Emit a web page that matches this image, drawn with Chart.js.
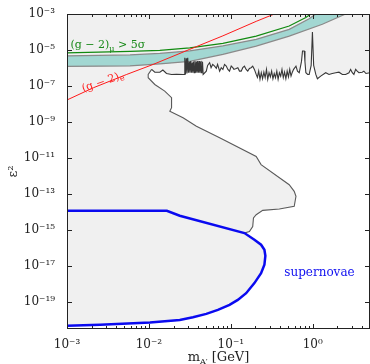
<!DOCTYPE html>
<html>
<head>
<meta charset="utf-8">
<script src="https://cdn.jsdelivr.net/npm/chart.js@4.4.1/dist/chart.umd.min.js"></script>
<style>
  html, body { margin: 0; padding: 0; background: #fff; }
  #wrap { width: 370px; height: 364px; }
</style>
</head>
<body>
<div id="wrap"><canvas id="chart"></canvas></div>
<script>
// Axis ticks
const xTicks = [1e-3, 1e-2, 1e-1, 1];
const yTicks = [1e-3, 1e-5, 1e-7, 1e-9, 1e-11, 1e-13, 1e-15, 1e-17, 1e-19];

// Existing limit: lower branch (from supernova junction up) then the noisy upper limit
const limitX = [
  0.1466, 0.1686, 0.185, 0.189, 0.204, 0.245, 0.391, 0.594, 0.624, 0.594,
  0.516, 0.234, 0.204, 0.073, 0.038, 0.0261, 0.018, 0.0189, 0.0189, 0.0156,
  0.0118, 0.0098, 0.0098, 0.0108,
  0.0118, 0.0136, 0.0148, 0.0164, 0.0189, 0.0217, 0.0261, 0.02699, 0.0274, 0.02792,
  0.02855, 0.02912, 0.02978, 0.03037, 0.03105, 0.03166, 0.03238, 0.0330, 0.03367, 0.03434,
  0.03502, 0.03571, 0.03641, 0.03713, 0.03787, 0.03862, 0.03938, 0.04016, 0.04095, 0.04176,
  0.04259, 0.04343, 0.04429, 0.04517, 0.04594, 0.0502, 0.0521, 0.0551, 0.0574, 0.0600,
  0.0634, 0.0665, 0.0689, 0.0730, 0.0764, 0.0800, 0.0838, 0.0879, 0.0920, 0.0964,
  0.1011, 0.1057, 0.1090, 0.1164, 0.1217, 0.1276, 0.1338, 0.1400, 0.1466, 0.1538,
  0.1609, 0.1686, 0.1770, 0.185, 0.194, 0.204, 0.2111, 0.2189, 0.2270, 0.2354,
  0.2441, 0.2531, 0.2625, 0.2723, 0.2823, 0.2928, 0.3037, 0.3149, 0.3266, 0.3387,
  0.3512, 0.3642, 0.3777, 0.3917, 0.4062, 0.4212, 0.4368, 0.4530, 0.4697, 0.4871,
  0.5051, 0.5238, 0.5432, 0.5633, 0.5842, 0.624, 0.651, 0.684, 0.713, 0.729,
  0.750, 0.787, 0.803, 0.824, 0.867, 0.904, 0.957, 0.991, 1.026, 1.09,
  1.14, 1.25, 1.44, 1.58, 1.73, 1.91, 2.09, 2.30, 2.52, 2.77,
  2.90, 3.04, 3.18, 3.34, 3.49, 3.66, 4.02, 4.21, 4.46, 5
];
const limitY = [
  6.5e-16, 8.0e-16, 1.52e-15, 4.5e-15, 6.8e-15, 1.19e-14, 1.42e-14, 1.99e-14, 7.2e-14, 1.36e-13,
  3.2e-13, 4.2e-12, 1.2e-11, 1.29e-10, 5.7e-10, 1.68e-9, 3.9e-9, 6.1e-9, 2.2e-8, 5.1e-8,
  1.2e-7, 2.85e-7, 4.35e-7, 8.3e-7,
  5.8e-7, 5.8e-7, 7.6e-7, 4.9e-7, 4.35e-7, 4.4e-7, 4.3e-7, 4.35e-7, 3.7e-6, 4.35e-7,
  3.4e-6, 4.9e-7, 3.7e-6, 5.4e-7, 2.2e-6, 5.4e-7, 2.4e-6, 5.4e-7, 2.0e-6, 5.4e-7,
  2.3e-6, 5.4e-7, 2.4e-6, 5.4e-7, 2.3e-6, 5.4e-7, 2.4e-6, 5.4e-7, 2.4e-6, 5.4e-7,
  2.3e-6, 5.4e-7, 2.2e-6, 2.0e-6, 4.35e-7, 6.65e-7, 1.38e-6, 1.95e-6, 1.03e-6, 1.57e-6,
  1.26e-6, 9.4e-7, 1.57e-6, 6.65e-7, 1.03e-6, 8.3e-7, 1.57e-6, 1.26e-6, 8.3e-7, 6.65e-7,
  1.26e-6, 1.03e-6, 8.3e-7, 9.4e-7, 1.03e-6, 6.65e-7, 6.65e-7, 1.03e-6, 1.26e-6, 8.3e-7,
  6.65e-7, 9.4e-7, 1.03e-6, 1.26e-6, 8.3e-7, 4.35e-7, 2.96e-7, 6.65e-7, 2.3e-7, 5.4e-7,
  2.5e-7, 5.8e-7, 2.85e-7, 8.3e-7, 2.3e-7, 5.4e-7, 3.16e-7, 6.65e-7, 2.5e-7, 4.9e-7,
  2.85e-7, 6.65e-7, 2.3e-7, 5.4e-7, 3.5e-7, 8.3e-7, 2.85e-7, 5.8e-7, 2.5e-7, 6.65e-7,
  3.16e-7, 8.3e-7, 3.5e-7, 5.8e-7, 8.3e-7, 1.26e-6, 6.65e-7, 5.4e-7, 1.38e-6, 2.3e-6,
  8.7e-6, 8.7e-6, 2.3e-6, 5.4e-7, 4.35e-7, 4.35e-7, 1.38e-6, 9.9e-5, 1.38e-6, 4.35e-7,
  2.5e-7, 3.5e-7, 5.4e-7, 4.35e-7, 4.9e-7, 5.4e-7, 5.8e-7, 4.35e-7, 4.35e-7, 5.4e-7,
  8.3e-7, 5.4e-7, 4.35e-7, 8.3e-7, 6.65e-7, 5.4e-7, 5.8e-7, 6.65e-7, 4.9e-7, 5.4e-7
];
const LIMIT_BRANCH_END = 23; // last index of the smooth lower branch

// Supernova bound (closed around the excluded island)
const snX = [1e-3, 0.01656, 0.0238, 0.1466, 0.194, 0.234, 0.257, 0.264, 0.257, 0.234,
  0.194, 0.1538, 0.1216, 0.0964, 0.0695, 0.0502, 0.0345, 0.0238, 0.0103, 0.00254, 1e-3];
const snY = [1.14e-14, 1.14e-14, 6.0e-15, 6.5e-16, 2.76e-16, 1.46e-16, 7.7e-17, 3.5e-17, 1.12e-17, 3.85e-18,
  1.07e-18, 2.95e-19, 1.25e-19, 6.6e-20, 3.47e-20, 2.07e-20, 1.36e-20, 9.6e-21, 6.8e-21, 5.25e-21, 4.6e-21];

// (g-2)_mu > 5 sigma
const gmuX = [1e-3, 5.88e-3, 0.0136, 0.0315, 0.080, 0.204, 0.516, 0.824, 0.948, 1.2];
const gmuY = [6.9e-6, 8.3e-6, 9.5e-6, 1.31e-5, 2.33e-5, 5.9e-5, 2.14e-4, 6.3e-4, 1e-3, 1.6e-3];

// (g-2)_mu favoured band
const bandHiX = [1e-3, 5.88e-3, 0.0136, 0.0315, 0.080, 0.204, 0.516, 0.904, 1.09, 3];
const bandHiY = [4.68e-6, 5.3e-6, 6.4e-6, 8.9e-6, 1.69e-5, 3.9e-5, 1.40e-4, 5.5e-4, 1e-3, 2.5e-2];
const bandLoX = [1e-3, 5.88e-3, 0.0136, 0.0315, 0.080, 0.204, 0.516, 1.31, 2.52, 3];
const bandLoY = [1.22e-6, 1.30e-6, 1.67e-6, 2.31e-6, 5.7e-6, 1.64e-5, 5.9e-5, 2.67e-4, 1e-3, 1.4e-3];

// (g-2)_e
const geX = [1e-3, 2.10e-3, 5.36e-3, 0.01127, 0.0315, 0.080, 0.204, 0.340, 0.45];
const geY = [1.65e-8, 7.9e-8, 4.35e-7, 1.57e-6, 1.08e-5, 6.1e-5, 3.9e-4, 1e-3, 2.2e-3];

const SERIF = '"DejaVu Serif", serif';
const SUP = { '-': '⁻', '0': '⁰', '1': '¹', '2': '²', '3': '³', '4': '⁴', '5': '⁵', '6': '⁶', '7': '⁷', '8': '⁸', '9': '⁹' };
const pow10 = v => '10' + String(Math.round(Math.log10(v))).replace(/./g, c => SUP[c]);
const zip = (xs, ys) => xs.map((x, i) => ({ x: x, y: ys[i] }));

// draw a run of [text, size, dy] pieces from a left baseline point
function drawParts(ctx, parts, x, y) {
  for (const [t, size, dy] of parts) {
    ctx.font = size + 'px ' + SERIF;
    ctx.fillText(t, x, y + dy);
    x += ctx.measureText(t).width;
  }
}
function partsWidth(ctx, parts) {
  let w = 0;
  for (const [t, size] of parts) {
    ctx.font = size + 'px ' + SERIF;
    w += ctx.measureText(t).width;
  }
  return w;
}

// Light grey excluded region, built from the limit and supernova curves
const regionPlugin = {
  id: 'regions',
  beforeDatasetsDraw(chart) {
    const { ctx, chartArea: a } = chart;
    const lim = chart.getDatasetMeta(3).data;
    const sn = chart.getDatasetMeta(2).data;
    const join = snX.findIndex(v => v >= limitX[0]);
    ctx.save();
    ctx.beginPath();
    ctx.rect(a.left, a.top, a.width, a.height);
    ctx.clip();
    ctx.fillStyle = '#f0f0f0';
    ctx.beginPath();
    ctx.moveTo(a.left, a.top);
    ctx.lineTo(a.right, a.top);
    ctx.lineTo(a.right, lim[lim.length - 1].y);
    for (let i = lim.length - 1; i >= 0; i--) ctx.lineTo(lim[i].x, lim[i].y);
    for (let i = join; i < sn.length; i++) ctx.lineTo(sn[i].x, sn[i].y);
    ctx.lineTo(a.left, sn[sn.length - 1].y);
    ctx.closePath();
    ctx.fill();
    ctx.restore();
  }
};

// Frame with inward ticks on all four sides, labels and axis title
const framePlugin = {
  id: 'frame',
  afterDatasetsDraw(chart) {
    const { ctx, chartArea: a, scales: { x, y } } = chart;
    ctx.save();
    ctx.strokeStyle = '#222';
    ctx.lineWidth = 1;
    ctx.strokeRect(a.left + 0.5, a.top + 0.5, a.width - 1, a.height - 1);
    ctx.beginPath();
    for (const dec of xTicks) {
      for (let m = 1; m < 10; m++) {
        const v = m * dec;
        if (v > x.max) break;
        const px = Math.round(x.getPixelForValue(v)) + 0.5;
        const len = m === 1 ? 5 : 3;
        ctx.moveTo(px, a.bottom); ctx.lineTo(px, a.bottom - len);
        ctx.moveTo(px, a.top); ctx.lineTo(px, a.top + len);
      }
    }
    for (const v of yTicks) {
      const py = Math.round(y.getPixelForValue(v)) + 0.5;
      ctx.moveTo(a.left, py); ctx.lineTo(a.left + 5, py);
      ctx.moveTo(a.right, py); ctx.lineTo(a.right - 5, py);
    }
    ctx.stroke();

    // annotations
    ctx.textBaseline = 'alphabetic';
    ctx.fillStyle = '#1a8a1a';
    drawParts(ctx, [['(g − 2)', 11, 0], ['μ', 8, 3], [' > 5σ', 11, 0]],
      x.getPixelForValue(1.1e-3), y.getPixelForValue(1.22e-5));

    ctx.fillStyle = '#ff2020';
    ctx.save();
    ctx.translate(x.getPixelForValue(1.58e-3), y.getPixelForValue(4.6e-8));
    ctx.rotate(-19 * Math.PI / 180);
    drawParts(ctx, [['(g − 2)', 11, 0], ['e', 8, 2]], 0, 0);
    ctx.restore();

    ctx.fillStyle = '#1010f0';
    drawParts(ctx, [['supernovae', 12, 0]], x.getPixelForValue(0.449), y.getPixelForValue(2.5e-18));

    // x axis title
    ctx.fillStyle = '#222';
    const title = [['m', 13, 0], ['A′', 8, 3], [' [GeV]', 13, 0]];
    const w = partsWidth(ctx, title);
    drawParts(ctx, title, (a.left + a.right) / 2 - w / 2, chart.height - 3);
    ctx.restore();
  }
};

new Chart(document.getElementById('chart'), {
  type: 'line',
  data: {
    datasets: [
      { label: '(g-2)e', data: zip(geX, geY), borderColor: '#ff1a1a', borderWidth: 1, order: 0 },
      { label: '(g-2)mu 5 sigma', data: zip(gmuX, gmuY), borderColor: '#108a10', borderWidth: 1.2, order: 1 },
      { label: 'supernovae', data: zip(snX, snY), borderColor: '#0a0af0', borderWidth: 2.5, order: 2 },
      { label: 'limit', data: zip(limitX, limitY), borderColor: '#383838', borderWidth: 1.1, order: 3,
        segment: { borderColor: c => c.p0DataIndex < LIMIT_BRANCH_END ? '#5a5a5a' : undefined } },
      { label: 'band high', data: zip(bandHiX, bandHiY), borderColor: '#8a8a8a', borderWidth: 1.2, order: 4 },
      { label: 'band low', data: zip(bandLoX, bandLoY), borderColor: '#8a8a8a', borderWidth: 1.2,
        backgroundColor: '#a2d7d2', fill: '-1', order: 5 }
    ]
  },
  options: {
    responsive: true,
    maintainAspectRatio: false,
    animation: false,
    layout: { padding: { top: 14, right: 0, left: 0, bottom: 0 } },
    elements: { point: { radius: 0 }, line: { tension: 0 } },
    plugins: { legend: { display: false }, tooltip: { enabled: false } },
    scales: {
      x: {
        type: 'logarithmic',
        min: 1e-3,
        max: 5,
        afterBuildTicks: s => { s.ticks = xTicks.map(v => ({ value: v })); },
        afterFit: s => { s.height = 35; },
        grid: { display: false },
        border: { display: false },
        ticks: {
          autoSkip: false, maxRotation: 0, padding: 1, color: '#222',
          font: { family: SERIF, size: 12 },
          callback: v => pow10(v)
        }
      },
      y: {
        type: 'logarithmic',
        min: 3e-21,
        max: 1e-3,
        afterBuildTicks: s => { s.ticks = yTicks.map(v => ({ value: v })); },
        afterFit: s => { s.width = 67; },
        grid: { display: false },
        border: { display: false },
        ticks: {
          autoSkip: false, padding: 4, color: '#222',
          font: { family: SERIF, size: 12 },
          callback: v => pow10(v)
        },
        title: {
          display: true, text: 'ε²', color: '#222',
          font: { family: SERIF, size: 13 },
          padding: { top: 6, bottom: 0 }
        }
      }
    }
  },
  plugins: [regionPlugin, framePlugin]
});
</script>
</body>
</html>
